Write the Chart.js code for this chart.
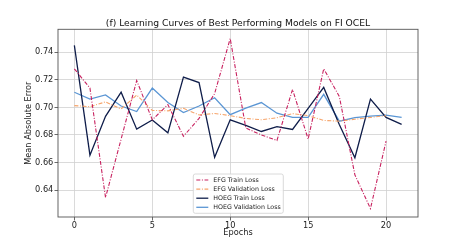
<!DOCTYPE html>
<html>
<head>
<meta charset="utf-8">
<script src="https://cdn.jsdelivr.net/npm/chart.js@4/dist/chart.umd.min.js"></script>
<style>
  html, body { margin: 0; padding: 0; background: #ffffff; }
  #wrap { width: 465px; height: 244px; }
</style>
</head>
<body>
<div id="wrap"><canvas id="c" width="465" height="244"></canvas></div>
<script>
// ---- data ----
const titleText = "(f) Learning Curves of Best Performing Models on FI OCEL";
const xTitle = "Epochs";
const yTitle = "Mean Absolute Error";
const xTicks = [0, 5, 10, 15, 20];
const yTicks = [0.64, 0.66, 0.68, 0.70, 0.72, 0.74];

const efgEpochs = [0,1,2,3,4,5,6,7,8,9,10,11,12,13,14,15,16,17,18,19,20];
const hoegEpochs = [0,1,2,3,4,5,6,7,8,9,10,11,12,13,14,15,16,17,18,19,20,21];

const efgTrain = [0.728, 0.714, 0.6345, 0.677, 0.7195, 0.691, 0.702, 0.679, 0.692, 0.710, 0.750,
                  0.685, 0.680, 0.676, 0.713, 0.677, 0.728, 0.708, 0.651, 0.6265, 0.6755];
const efgVal = [0.7013, 0.7005, 0.704, 0.6988, 0.709, 0.6978, 0.6975, 0.6993, 0.6945, 0.6956, 0.694,
                0.692, 0.691, 0.6925, 0.6955, 0.694, 0.6905, 0.690, 0.6914, 0.6927, 0.694];
const hoegTrain = [0.745, 0.6653, 0.6935, 0.711, 0.6842, 0.6908, 0.6815, 0.722, 0.718, 0.6637, 0.691,
                   0.687, 0.6825, 0.686, 0.684, 0.6993, 0.7145, 0.6875, 0.6634, 0.706, 0.6927, 0.6876];
const hoegVal = [0.711, 0.706, 0.709, 0.701, 0.697, 0.714, 0.7035, 0.6963, 0.701, 0.707, 0.6947,
                 0.6995, 0.7035, 0.6958, 0.6927, 0.6927, 0.7095, 0.690, 0.6925, 0.6937, 0.6944, 0.6927];

const seriesNames = ["EFG Train Loss", "EFG Validation Loss", "HOEG Train Loss", "HOEG Validation Loss"];

function pts(xs, ys) { return ys.map((y, i) => ({ x: xs[i], y: y })); }

const FONT = "'DejaVu Sans', 'Liberation Sans', sans-serif";
const dashDot = [4, 1.6, 1, 1.6];

const frameAndLegend = {
  id: 'frameAndLegend',
  afterDatasetsDraw(chart) {
    const ctx = chart.ctx;
    const a = chart.chartArea;
    ctx.save();
    // axes frame (all four spines)
    ctx.strokeStyle = '#555555';
    ctx.lineWidth = 0.9;
    ctx.strokeRect(a.left, a.top, a.right - a.left, a.bottom - a.top);

    // legend (lower center, inside plot)
    const ds = chart.data.datasets;
    const fs = 6.3;
    const rowH = 9.1;
    const boxW = 90, boxH = 39.3;
    const cx = (a.left + a.right) / 2;
    const bx = cx - boxW / 2 + 0.3;
    const by = a.bottom - 3.7 - boxH;
    ctx.fillStyle = 'rgba(255,255,255,0.85)';
    ctx.strokeStyle = '#d0d0d0';
    ctx.lineWidth = 0.8;
    ctx.beginPath();
    if (ctx.roundRect) ctx.roundRect(bx, by, boxW, boxH, 2); else ctx.rect(bx, by, boxW, boxH);
    ctx.fill();
    ctx.stroke();
    ctx.font = fs + "px " + FONT;
    ctx.textBaseline = 'middle';
    ctx.textAlign = 'left';
    ds.forEach((d, i) => {
      const y = by + 6 + i * rowH;
      ctx.beginPath();
      ctx.setLineDash(d.borderDash || []);
      ctx.strokeStyle = d.borderColor;
      ctx.lineWidth = d.borderWidth;
      ctx.moveTo(bx + 3, y);
      ctx.lineTo(bx + 15, y);
      ctx.stroke();
      ctx.setLineDash([]);
      ctx.fillStyle = '#222222';
      ctx.fillText(d.label, bx + 20, y + 0.3);
    });
    ctx.restore();
  }
};

new Chart(document.getElementById('c'), {
  type: 'line',
  data: {
    datasets: [
      { label: seriesNames[0], data: pts(efgEpochs, efgTrain), borderColor: '#c8215f', borderWidth: 1.1, borderDash: dashDot },
      { label: seriesNames[1], data: pts(efgEpochs, efgVal), borderColor: '#f6a46a', borderWidth: 1.1, borderDash: dashDot },
      { label: seriesNames[2], data: pts(hoegEpochs, hoegTrain), borderColor: '#0f1d4a', borderWidth: 1.3 },
      { label: seriesNames[3], data: pts(hoegEpochs, hoegVal), borderColor: '#5b96d4', borderWidth: 1.3 }
    ]
  },
  options: {
    responsive: false,
    animation: false,
    devicePixelRatio: 1,
    parsing: true,
    elements: { point: { radius: 0, hoverRadius: 0 }, line: { tension: 0, fill: false } },
    layout: { padding: { left: 0, right: 47, top: 0, bottom: 0 } },
    plugins: {
      legend: { display: false },
      tooltip: { enabled: false },
      title: {
        display: true,
        text: titleText,
        fullSize: false,
        color: '#111111',
        font: { family: FONT, size: 9.2, weight: 'normal', lineHeight: 1.2 },
        padding: { top: 17.8, bottom: 0.46 }
      }
    },
    scales: {
      x: {
        type: 'linear',
        min: -1.05,
        max: 22.05,
        afterFit(s) { s.height = 27; },
        afterBuildTicks(s) { s.ticks = xTicks.map(v => ({ value: v })); },
        ticks: { color: '#222222', font: { family: FONT, size: 8.2 }, padding: 0, maxRotation: 0, autoSkip: false,
                 callback: v => String(v) },
        grid: { color: '#d0d0d0', lineWidth: 0.8, drawTicks: true, tickLength: 3.5, tickColor: '#444444', tickWidth: 0.8 },
        border: { display: false },
        title: { display: true, text: xTitle, color: '#222222', font: { family: FONT, size: 8.2, lineHeight: 1.2 },
                 padding: { top: 0, bottom: 5.8 } }
      },
      y: {
        type: 'linear',
        min: 0.6204,
        max: 0.7567,
        afterFit(s) { s.width = 58; },
        afterBuildTicks(s) { s.ticks = yTicks.map(v => ({ value: v })); },
        ticks: { color: '#222222', font: { family: FONT, size: 8.2 }, padding: 1.2, autoSkip: false,
                 callback: v => Number(v).toFixed(2) },
        grid: { color: '#d0d0d0', lineWidth: 0.8, drawTicks: true, tickLength: 3.5, tickColor: '#444444', tickWidth: 0.8 },
        border: { display: false },
        title: { display: true, text: yTitle, color: '#222222', font: { family: FONT, size: 8.2, lineHeight: 1.2 },
                 padding: { top: 23.6, bottom: 0 } }
      }
    }
  },
  plugins: [frameAndLegend]
});
</script>
</body>
</html>
